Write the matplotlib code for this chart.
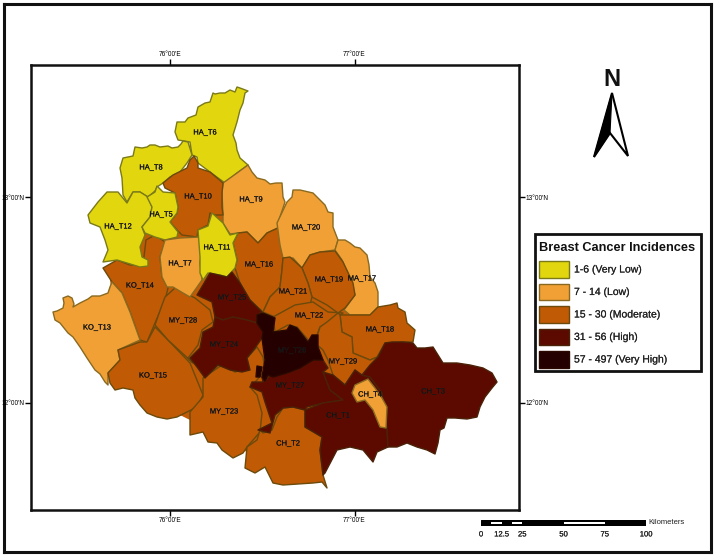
import matplotlib
matplotlib.use('Agg')
import matplotlib.pyplot as plt
from matplotlib.patches import Polygon, Rectangle
import matplotlib.patheffects as pe

plt.rcParams['font.family'] = ['Liberation Sans', 'DejaVu Sans']

# class colours and legend
class_colors = ['#E2D60E', '#F0A035', '#C05A05', '#5C0A00', '#240000']
class_edges = ['#7a7a18', '#8a6a20', '#6b4a0c', '#4a2208', '#2a0800']
class_labels = ['1-6 (Very Low)', '7 - 14 (Low)', '15 - 30 (Moderate)', '31 - 56 (High)', '57 - 497 (Very High)']
legend_title = 'Breast Cancer Incidences'

# graticule, in digitised map units
lon_ticks = [170, 354.5]
lon_labels = ["76°00'E", "77°00'E"]
lat_ticks = [197.5, 403]
lat_labels = ["13°00'N", "12°00'N"]

# scale bar in km
scale_ticks = [0, 12.5, 25, 50, 75, 100]
scale_white = [(6.25, 12.5), (18.75, 25), (50, 75)]

# district outlines
BASE = [(140,200),(222,190),(300,220),(360,300),(400,340),(380,440),(320,440),(260,460),(210,430),(150,400),(120,350),(110,280)]
KD_T14 = [(103,268),(117,260),(130,265),(143,265),(146,240),(155,235),(165,242),(160,257),(162,277),(168,288),(165,300),(155,323),(147,342),(140,340),(130,312),(122,293),(112,282)]
KD_T13 = [(112,282),(122,293),(130,312),(140,340),(118,350),(120,360),(108,373),(108,385),(105,382),(100,374),(95,370),(87,358),(80,347),(73,337),(68,333),(60,323),(55,320),(53,312),(57,311),(63,308),(64,303),(63,298),(68,296),(72,298),(74,304),(73,307),(80,303),(88,299),(92,296),(100,296),(108,293),(110,287)]
KD_T15 = [(155,327),(168,340),(190,363),(203,395),(197,407),(187,412),(177,417),(167,419),(157,417),(147,413),(140,405),(135,398),(133,390),(123,388),(115,390),(110,383),(108,373),(120,360),(118,350),(140,342),(147,342)]
MY_T28 = [(175,288),(183,292),(195,298),(210,310),(213,322),(202,330),(198,345),(188,358),(193,363),(168,340),(155,325),(162,305),(165,297)]
MY_T23 = [(203,378),(222,365),(235,372),(248,368),(247,358),(257,347),(263,357),(265,370),(257,380),(250,387),(257,395),(262,413),(260,432),(247,447),(243,453),(233,458),(222,450),(217,443),(208,442),(203,432),(190,435),(190,412),(203,397)]
CH_T2 = [(277,417),(283,408),(293,407),(305,410),(305,427),(322,437),(320,450),(323,475),(327,488),(322,482),(313,483),(283,485),(273,483),(265,467),(255,473),(245,468),(247,447),(257,440),(260,430),(263,433),(272,430)]
HA_T6 = [(248,91),(240,88),(237,87),(235,92),(230,90),(225,93),(220,93),(215,94),(213,93),(210,102),(205,103),(198,107),(196,115),(188,118),(185,122),(177,122),(175,132),(178,140),(190,142),(192,155),(197,157),(198,163),(210,172),(225,183),(237,173),(248,165),(240,158),(237,150),(236,143),(233,135),(237,122),(240,110),(243,103),(245,93)]
HA_T8 = [(133,156),(135,147),(142,148),(147,147),(150,145),(155,145),(160,147),(168,146),(172,148),(178,147),(181,144),(183,141),(188,142),(192,155),(187,163),(180,172),(170,177),(163,183),(157,187),(155,191),(148,197),(140,192),(133,192),(127,202),(123,195),(122,178),(120,168),(123,158)]
HA_T9 = [(248,165),(252,172),(257,178),(265,180),(270,184),(276,183),(282,183),(283,197),(285,202),(278,223),(280,227),(267,233),(258,243),(247,232),(238,233),(230,234),(223,223),(223,215),(222,193),(223,183),(237,173)]
HA_T10 = [(194,156),(198,163),(198,168),(210,172),(223,183),(222,193),(222,207),(223,215),(215,215),(210,213),(208,225),(198,230),(197,237),(182,235),(177,230),(170,222),(177,213),(178,207),(175,193),(165,188),(163,183),(173,175),(187,168),(190,160)]
HA_T12 = [(107,192),(118,192),(127,203),(133,192),(140,192),(148,197),(152,207),(150,217),(142,227),(145,235),(140,247),(142,257),(148,260),(148,266),(140,267),(127,263),(117,260),(103,262),(108,250),(105,240),(100,227),(90,223),(88,215),(98,202)]
HA_T5 = [(157,186),(163,192),(175,193),(178,207),(177,213),(170,222),(178,232),(177,237),(165,240),(155,237),(145,233),(142,227),(150,217),(152,207),(147,197),(155,192)]
HA_T7 = [(165,240),(180,238),(200,237),(202,247),(200,263),(202,280),(195,290),(190,297),(183,293),(173,287),(167,287),(162,277),(160,257)]
MA_T16 = [(238,233),(247,232),(258,243),(267,233),(280,227),(283,245),(283,258),(282,270),(280,287),(270,297),(263,312),(250,300),(240,283),(235,268),(237,260),(233,243)]
HA_T11 = [(212,213),(223,223),(230,235),(238,233),(233,243),(237,260),(235,268),(227,277),(220,275),(208,273),(203,280),(200,273),(200,257),(198,230),(208,226)]
MA_T20 = [(293,190),(300,190),(313,193),(320,200),(325,205),(328,212),(333,213),(333,227),(338,240),(335,250),(320,252),(310,255),(302,268),(293,258),(283,258),(280,245),(277,223),(287,202),(292,197)]
MA_T17 = [(338,240),(345,240),(350,243),(355,247),(360,248),(367,255),(369,265),(370,277),(375,283),(378,292),(378,307),(372,313),(370,315),(350,315),(344,310),(355,295),(352,283),(342,260),(335,250)]
MA_T19 = [(320,252),(335,251),(343,262),(353,283),(355,295),(345,308),(338,313),(327,305),(312,297),(308,283),(302,268),(310,255)]
MA_T21 = [(283,258),(290,257),(302,268),(308,283),(312,297),(310,305),(293,308),(275,317),(263,312),(270,297),(280,287),(282,270)]
MA_T22 = [(273,317),(295,305),(313,302),(328,312),(343,313),(337,318),(320,327),(317,335),(310,342),(297,327),(288,325),(275,332)]
MA_T18 = [(350,315),(370,315),(378,307),(390,305),(397,303),(398,308),(405,312),(407,323),(415,330),(413,342),(403,342),(385,343),(377,357),(370,360),(353,353),(352,337),(342,332),(340,315)]
MY_T29 = [(340,315),(342,332),(352,337),(353,353),(370,360),(378,357),(373,365),(362,377),(355,370),(345,385),(333,375),(328,360),(323,350),(315,343),(320,327),(327,322),(338,313)]
MY_T25 = [(210,273),(227,277),(232,272),(240,283),(250,300),(262,312),(257,315),(257,323),(247,320),(233,317),(223,320),(215,317),(212,302),(197,295),(203,285)]
MY_T24 = [(215,317),(223,320),(233,317),(247,320),(257,323),(263,332),(262,338),(255,348),(247,358),(250,370),(242,372),(230,370),(218,365),(205,378),(197,367),(190,358),(200,348),(203,332),(213,327)]
MY_T27 = [(262,377),(265,381),(270,375),(287,373),(300,368),(313,360),(323,360),(328,368),(323,372),(330,390),(343,400),(323,403),(307,407),(305,410),(293,407),(283,408),(275,415),(270,433),(258,430),(272,423),(265,402),(262,392),(250,387),(252,382),(263,382)]
CH_T1 = [(345,385),(355,370),(362,375),(370,377),(382,393),(387,428),(388,447),(377,452),(373,462),(363,450),(350,447),(337,450),(325,473),(323,475),(320,450),(322,437),(305,427),(305,410),(323,403),(343,400),(330,390),(323,372),(333,375)]
CH_T3 = [(385,343),(392,342),(403,342),(413,343),(417,348),(425,348),(433,347),(438,355),(443,363),(457,363),(470,365),(483,368),(492,373),(497,382),(492,388),(485,397),(480,407),(477,417),(467,419),(455,418),(447,418),(444,428),(440,430),(438,443),(435,454),(427,450),(417,447),(407,443),(397,447),(388,447),(387,428),(382,393),(370,377),(362,375),(370,365),(378,357)]
CH_T4 = [(368,379),(375,388),(382,398),(387,407),(386,428),(380,427),(373,410),(365,400),(357,402),(352,393),(355,385)]
MY_T26 = [(257,315),(263,313),(275,318),(273,332),(287,330),(290,325),(297,328),(308,342),(312,335),(318,335),(318,347),(323,360),(313,360),(300,368),(287,373),(273,377),(268,375),(265,381),(262,377),(265,360),(262,338),(263,332),(257,323)]
MY_T26b = [(257,366),(262,367),(260,377),(256,377)]

# name, outline, class, label position
districts = [
    ('KO_T14', KD_T14, 2, (140, 286)), ('KO_T13', KD_T13, 1, (97, 328)), ('KO_T15', KD_T15, 2, (153, 376)),
    ('MY_T28', MY_T28, 2, (183, 321)), ('MY_T23', MY_T23, 2, (224, 412)), ('CH_T2', CH_T2, 2, (288, 444)),
    ('HA_T6', HA_T6, 0, (205, 133)), ('HA_T8', HA_T8, 0, (151, 168)), ('HA_T9', HA_T9, 1, (251, 200)),
    ('HA_T10', HA_T10, 2, (198, 197)), ('HA_T12', HA_T12, 0, (118, 227)), ('HA_T5', HA_T5, 0, (161, 215)),
    ('HA_T7', HA_T7, 1, (180, 264)), ('MA_T16', MA_T16, 2, (259, 265)), ('HA_T11', HA_T11, 0, (217, 248)),
    ('MA_T20', MA_T20, 1, (306, 228)), ('MA_T17', MA_T17, 1, (362, 279)), ('MA_T19', MA_T19, 2, (329, 280)),
    ('MA_T21', MA_T21, 2, (293, 292)), ('MA_T22', MA_T22, 2, (309, 316)), ('MA_T18', MA_T18, 2, (380, 330)),
    ('MY_T29', MY_T29, 2, (343, 362)), ('MY_T25', MY_T25, 3, (232, 298)), ('MY_T24', MY_T24, 3, (224, 345)),
    ('MY_T27', MY_T27, 3, (290, 386)), ('CH_T1', CH_T1, 3, (338, 416)), ('CH_T3', CH_T3, 3, (433, 392)),
    ('CH_T4', CH_T4, 1, (370, 395)), ('MY_T26', MY_T26, 4, (292, 351)), ('', MY_T26b, 4, None),
]

fig = plt.figure(figsize=(7.16, 5.57), dpi=100)
W, H = 716.0, 557.0
thick = [pe.withStroke(linewidth=0.12, foreground='#333333')]

# outer neatline
outer = fig.add_axes([4/W, 1-552/H, (711-4)/W, (552-4)/H])
outer.set_xticks([])
outer.set_yticks([])
for s in outer.spines.values():
    s.set_linewidth(2.2)
    s.set_color('#111111')

# map frame
ax = fig.add_axes([31/W, 1-510/H, (519-31)/W, (510-65)/H])
ax.set_xlim(31, 519)
ax.set_ylim(510, 65)
for s in ax.spines.values():
    s.set_linewidth(1.8)
    s.set_color('#111111')
ax.set_xticks(lon_ticks)
ax.set_xticklabels(lon_labels)
ax.set_yticks(lat_ticks)
ax.set_yticklabels(lat_labels)
ax.tick_params(top=True, bottom=True, left=True, right=True, labeltop=True, labelright=True,
               length=4, width=1, pad=1, labelsize=4.7, direction='out')

ax.add_patch(Polygon(BASE, closed=True, facecolor=class_colors[2], edgecolor='none'))
for name, pts, cls, pos in districts:
    ax.add_patch(Polygon(pts, closed=True, facecolor=class_colors[cls], edgecolor=class_edges[cls],
                         linewidth=1.0, joinstyle='round'))
for name, pts, cls, pos in districts:
    if pos:
        ax.text(pos[0], pos[1], name, fontsize=5.4, ha='center', va='center', color='#111111', path_effects=thick)

# overlay for north arrow and legend, in pixels
deco = fig.add_axes([0, 0, 1, 1])
deco.set_xlim(0, W)
deco.set_ylim(H, 0)
deco.axis('off')
deco.patch.set_alpha(0)

deco.text(612, 79, 'N', fontsize=17, fontweight='bold', ha='center', va='center', color='#111111')
deco.add_patch(Polygon([(612, 93), (628, 156), (610, 133), (594, 157)], closed=True, facecolor='white', edgecolor='black', linewidth=1.5))
deco.add_patch(Polygon([(612, 93), (610, 133), (594, 157)], closed=True, facecolor='black', edgecolor='black', linewidth=0.8))

deco.add_patch(Rectangle((535, 234), 166, 137, facecolor='white', edgecolor='#111111', linewidth=2))
deco.text(617, 248, legend_title, fontsize=9.2, fontweight='bold', ha='center', va='center', color='#111111')
for i, (col, lab) in enumerate(zip(class_colors, class_labels)):
    y = 261 + i * 22.5
    deco.add_patch(Rectangle((539, y), 30, 16.5, facecolor=col, edgecolor=class_edges[i], linewidth=1))
    deco.text(574, y + 8.5, lab, fontsize=7.5, ha='left', va='center', color='#222222', path_effects=thick)

# scale bar, x in km
sb = fig.add_axes([481/W, 1-526/H, (646-481)/W, 6/H])
sb.set_xlim(0, 100)
sb.set_ylim(0, 1)
sb.axis('off')
sb.add_patch(Rectangle((0, 0), 100, 1, facecolor='black', edgecolor='black', linewidth=0.8))
for a, b in scale_white:
    sb.add_patch(Rectangle((a, 0.33), b - a, 0.34, facecolor='white', edgecolor='none'))
for km in scale_ticks:
    sb.text(km, -0.9, str(km), fontsize=5.5, ha='center', va='top', color='#222222', path_effects=thick)
sb.text(101.5, 0.5, 'Kilometers', fontsize=5.5, ha='left', va='center', color='#222222')

fig.savefig('out.png', dpi=100)
